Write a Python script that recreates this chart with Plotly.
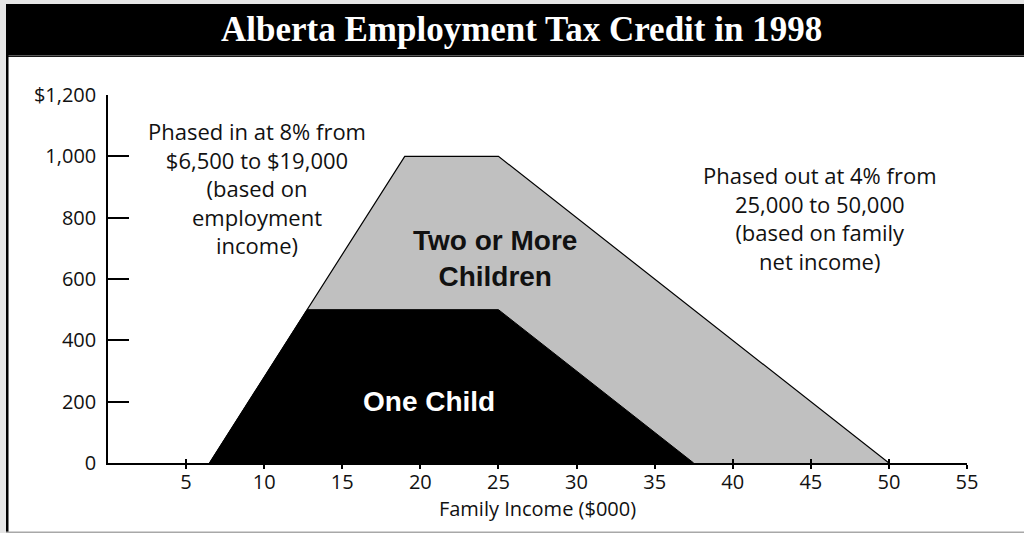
import plotly.graph_objects as go

# Credit schedule (income in $000, credit in $)
two_plus_income = [6.5, 19, 25, 50]
two_plus_credit = [0, 1000, 1000, 0]
one_child_income = [6.5, 12.75, 25, 37.5]
one_child_credit = [0, 500, 500, 0]

income_ticks = [5, 10, 15, 20, 25, 30, 35, 40, 45, 50, 55]
credit_ticks = [0, 200, 400, 600, 800, 1000, 1200]
credit_tick_labels = ["0", "200", "400", "600", "800", "1,000", "$1,200"]

W, H = 1024, 533
ML, MR, MT, MB = 108, 57, 95, 70
PW, PH = W - ML - MR, H - MT - MB


def px(x):
    return (x - ML) / PW


def py(y):
    return (H - MB - y) / PH


SANS = "Open Sans"
SERIF = "Liberation Serif"

fig = go.Figure()

fig.add_trace(go.Scatter(
    x=two_plus_income, y=two_plus_credit, mode="lines", fill="toself",
    fillcolor="#c0c0c0", line=dict(color="black", width=1.2),
    hoverinfo="skip", showlegend=False,
))
fig.add_trace(go.Scatter(
    x=one_child_income, y=one_child_credit, mode="lines", fill="toself",
    fillcolor="black", line=dict(color="black", width=1),
    hoverinfo="skip", showlegend=False,
))
# carrier trace for the overlaid axis that draws the upper half of the x ticks
fig.add_trace(go.Scatter(
    x=two_plus_income, y=two_plus_credit, xaxis="x2", mode="lines",
    line=dict(width=0), opacity=0, hoverinfo="skip", showlegend=False,
))

shapes = [
    # white panel
    dict(type="rect", xref="paper", yref="paper", x0=px(8), x1=px(1030),
         y0=py(533), y1=py(57), fillcolor="white", line_width=0, layer="below"),
    # title bar
    dict(type="rect", xref="paper", yref="paper", x0=px(6), x1=px(1030),
         y0=py(57), y1=py(4), fillcolor="black", line_width=0, layer="below"),
    dict(type="rect", xref="paper", yref="paper", x0=px(6), x1=px(1030),
         y0=py(56.2), y1=py(55), fillcolor="#5a5a5a", line_width=0, layer="below"),
    # left frame edge
    dict(type="rect", xref="paper", yref="paper", x0=px(6), x1=px(8.5),
         y0=py(532), y1=py(55), fillcolor="black", line_width=0, layer="below"),
    # bottom frame edge
    dict(type="rect", xref="paper", yref="paper", x0=px(6), x1=px(1030),
         y0=py(533), y1=py(531.5), fillcolor="#a8a8a8", line_width=0, layer="below"),
]

annotations = [
    dict(text="Alberta Employment Tax Credit in 1998", xref="paper", yref="paper",
         x=px(521), y=py(29), showarrow=False, xanchor="center", yanchor="middle",
         font=dict(family=SERIF, size=35, color="white", weight="bold")),
    dict(text="Phased in at 8% from<br>$6,500 to $19,000<br>(based on<br>employment<br>income)",
         x=9.55, y=897, showarrow=False, xanchor="center", yanchor="middle",
         font=dict(family=SANS, size=22, color="#111"), align="center"),
    dict(text="Phased out at 4% from<br>25,000 to 50,000<br>(based on family<br>net income)",
         x=45.6, y=800, showarrow=False, xanchor="center", yanchor="middle",
         font=dict(family=SANS, size=22, color="#111"), align="center"),
    dict(text="Two or More<br>Children", x=24.8, y=668, showarrow=False,
         xanchor="center", yanchor="middle", align="center",
         font=dict(family="Liberation Sans", size=28, color="#111", weight="bold")),
    dict(text="One Child", x=20.55, y=202, showarrow=False,
         xanchor="center", yanchor="middle",
         font=dict(family="Liberation Sans", size=28, color="white", weight="bold")),
]

fig.update_layout(
    width=W, height=H,
    margin=dict(l=ML, r=MR, t=MT, b=MB, pad=0),
    paper_bgcolor="#e6e6e6",
    plot_bgcolor="white",
    shapes=shapes,
    annotations=annotations,
    xaxis=dict(
        range=[0, 55], tickvals=income_ticks, ticks="outside", ticklen=4,
        tickwidth=1.5, tickcolor="black", showline=True, linecolor="black",
        linewidth=2, showgrid=False, zeroline=False, ticklabelstandoff=-4,
        tickfont=dict(family=SANS, size=20, color="#111"),
        title=dict(text="Family Income ($000)", standoff=2,
                   font=dict(family=SANS, size=20, color="#111")),
    ),
    xaxis2=dict(
        range=[0, 55], overlaying="x", anchor="y", side="bottom",
        tickvals=income_ticks, ticks="inside", ticklen=4, tickwidth=1.5,
        tickcolor="black", showticklabels=False, showline=False,
        showgrid=False, zeroline=False,
    ),
    yaxis=dict(
        range=[0, 1200], tickvals=credit_ticks, ticktext=credit_tick_labels,
        ticks="inside", ticklen=21, tickwidth=1.5, tickcolor="black",
        showline=True, linecolor="black", linewidth=1.5, showgrid=False,
        zeroline=False, ticklabelstandoff=6,
        tickfont=dict(family=SANS, size=20, color="#111"),
    ),
)

fig.write_html("out.html")
